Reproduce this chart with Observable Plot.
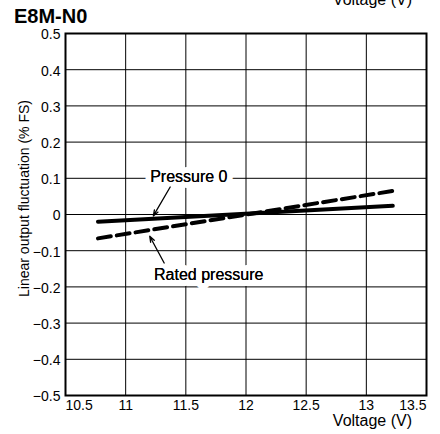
<!DOCTYPE html>
<html>
<head>
<meta charset="utf-8">
<script src="https://cdn.jsdelivr.net/npm/d3@7"></script>
<script src="https://cdn.jsdelivr.net/npm/@observablehq/plot@0.6"></script>
<style>
  html, body { margin: 0; padding: 0; background: #fff; }
  #chart { width: 440px; height: 434px; }
</style>
</head>
<body>
<div id="chart"></div>
<script>
// ---- data ----
const title = "E8M-N0";
const xLabel = "Voltage (V)";
const yLabel = "Linear output fluctuation (% FS)";
const xTicks = [10.5, 11, 11.5, 12, 12.5, 13, 13.5];
const yTicks = [-0.5, -0.4, -0.3, -0.2, -0.1, 0, 0.1, 0.2, 0.3, 0.4, 0.5];
const pressure0Voltage = [10.77, 13.22];
const pressure0Values = [-0.02, 0.024];
const ratedVoltage = [10.77, 13.22];
const ratedValues = [-0.066, 0.065];
const labelPressure0 = {text: "Pressure 0", x: 11.525, y: 0.104};
const labelRated = {text: "Rated pressure", x: 11.69, y: -0.166};
const arrowPressure0 = {x1: 11.37, y1: 0.076, x2: 11.23, y2: -0.004};
const arrowRated = {x1: 11.32, y1: -0.134, x2: 11.2, y2: -0.06};

const pressure0 = pressure0Voltage.map((v, i) => ({v, y: pressure0Values[i]}));
const rated = ratedVoltage.map((v, i) => ({v, y: ratedValues[i]}));
const fmtY = d => d === 0 ? "0" : (d < 0 ? "\u2212" + Math.abs(d) : String(d));

const font = "'Liberation Sans', Arial, Helvetica, sans-serif";

const plot = Plot.plot({
  width: 440,
  height: 434,
  marginLeft: 65,
  marginRight: 14,
  marginTop: 33,
  marginBottom: 39,
  style: {fontFamily: font, fontSize: "14px", color: "black", background: "white", overflow: "visible"},
  x: {domain: [10.5, 13.5]},
  y: {domain: [-0.5, 0.5]},
  marks: [
    Plot.gridX(xTicks, {stroke: "black", strokeOpacity: 1, strokeWidth: 1}),
    Plot.gridY(yTicks, {stroke: "black", strokeOpacity: 1, strokeWidth: 1}),
    Plot.frame({stroke: "black", strokeWidth: 2}),
    Plot.axisY(yTicks, {tickSize: 0, tickPadding: 5, tickFormat: fmtY, label: null, fontSize: 14, dy: 1.5}),
    Plot.axisX(xTicks.slice(1, -1), {tickSize: 0, tickPadding: 5, tickFormat: d => String(d), label: null, fontSize: 14}),
    Plot.axisX([xTicks[0]], {tickSize: 0, tickPadding: 5, tickFormat: d => String(d), label: null, textAnchor: "start", fontSize: 14}),
    Plot.axisX([xTicks[xTicks.length - 1]], {tickSize: 0, tickPadding: 5, tickFormat: d => String(d), label: null, textAnchor: "end", fontSize: 14}),
    Plot.line(pressure0, {x: "v", y: "y", stroke: "black", strokeWidth: 4}),
    Plot.line(rated, {x: "v", y: "y", stroke: "black", strokeWidth: 4, strokeDasharray: "13,6"}),
    Plot.text([labelPressure0, labelRated], {x: "x", y: "y", text: "text", fontSize: 16, fill: "black", stroke: "white", strokeWidth: 12, strokeLinejoin: "round"}),
    Plot.text([labelPressure0, labelRated], {x: "x", y: "y", text: "text", fontSize: 16, fill: "black"}),
    Plot.arrow([arrowPressure0, arrowRated], {x1: "x1", y1: "y1", x2: "x2", y2: "y2", stroke: "black", strokeWidth: 1.3, headLength: 7, headAngle: 40})
  ]
});

const svg = d3.select(plot);
svg.selectAll('g[aria-label="x-axis tick label"], g[aria-label="y-axis tick label"]').attr("font-size", 14);
svg.append("text")
  .attr("x", 14).attr("y", 23).attr("text-anchor", "start")
  .attr("font-family", font).attr("font-size", 20).attr("font-weight", "bold")
  .attr("fill", "black")
  .text(title);
svg.append("text")
  .attr("x", 412).attr("y", 5).attr("text-anchor", "end")
  .attr("font-family", font).attr("font-size", 16)
  .attr("fill", "black")
  .text(xLabel);
svg.append("text")
  .attr("x", 412).attr("y", 426).attr("text-anchor", "end")
  .attr("font-family", font).attr("font-size", 16)
  .attr("fill", "black")
  .text(xLabel);
svg.append("text")
  .attr("transform", "translate(29,198.5) rotate(-90)")
  .attr("text-anchor", "middle")
  .attr("font-family", font).attr("font-size", 14)
  .attr("fill", "black")
  .text(yLabel);

document.getElementById("chart").appendChild(plot);
</script>
</body>
</html>
